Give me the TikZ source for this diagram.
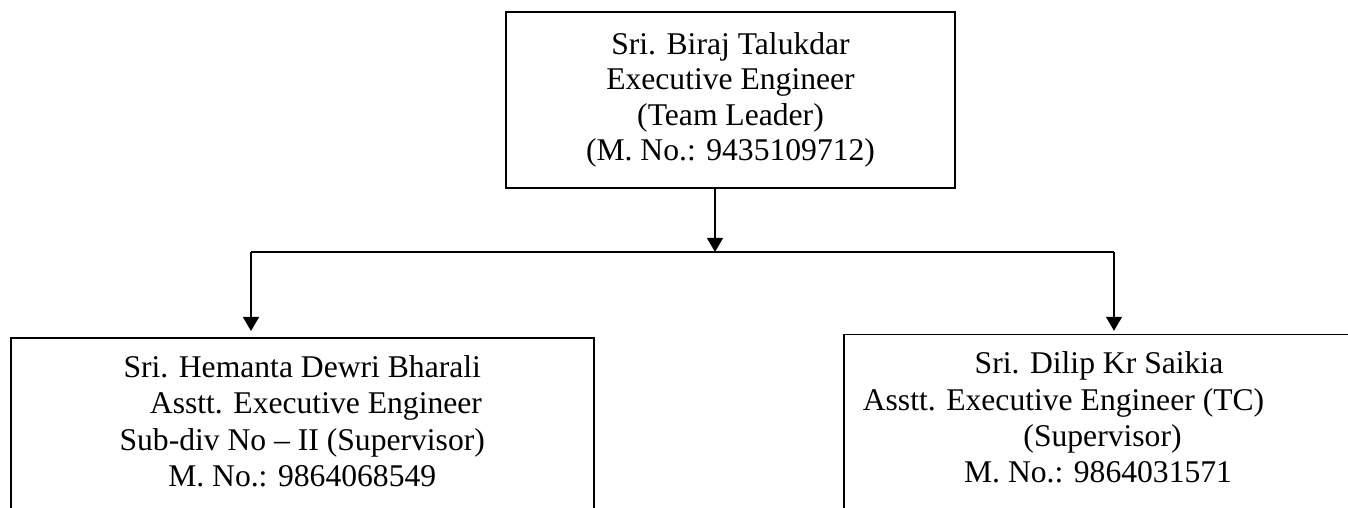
\documentclass[tikz,border=0pt]{standalone}
\usepackage{fontspec}
\setmainfont{Liberation Serif}
\usetikzlibrary{calc}
\usetikzlibrary{arrows.meta}
\usetikzlibrary{positioning}

\begin{document}
\begin{tikzpicture}[x=.02cm,y=-.02cm,
  box/.style={draw,line width=1.1pt,inner sep=0pt},
  txt/.style={align=center,inner sep=0pt,font=\fontsize{18pt}{20.2pt}\selectfont},
  subtxt/.style={txt,font=\fontsize{18pt}{20.7pt}\selectfont},
  link/.style={line width=1.1pt,>={Triangle[length=8pt,width=9pt]}}]
\useasboundingbox (0,0) rectangle (1348,507);
\clip (0,0) rectangle (1348,507);
\node[box,txt,minimum width=8.98cm,minimum height=3.52cm] (leader) at (730.5,100)
  {Sri. Biraj Talukdar\\Executive Engineer\\(Team Leader)\\(M. No.: 9435109712)};
\node[box,minimum width=11.67cm,minimum height=4cm,anchor=north] (hdb) at (302.25,337) {};
\node[box,minimum width=10.72cm,minimum height=4cm,anchor=north] (dks) at (1112,333.5) {};
\node[subtxt,below=.36cm of hdb.north] (hdbtxt)
  {Sri. Hemanta Dewri Bharali\\\hspace*{15.6pt}Asstt. Executive Engineer\\Sub-div No – II (Supervisor)\\M. No.: 9864068549};
\node[subtxt,below=.36cm of dks.north,xshift=-.97cm] (dkstxt)
  {\hspace*{40.4pt}Sri. Dilip Kr Saikia\\Asstt. Executive Engineer (TC)\\\hspace*{44.4pt}(Supervisor)\\\hspace*{39.3pt}M. No.: 9864031571};
\coordinate (split) at (715,252);
\coordinate (lturn) at (251,252);
\coordinate (rturn) at (1114,252);
\draw[link,->] (leader.south -| split) -- (split);
\draw[link] (lturn) -- (rturn);
\draw[link,->,shorten >=3.4pt] (lturn) -- (lturn |- hdb.north);
\draw[link,->,shorten >=1.5pt] (rturn) -- (rturn |- dks.north);
\end{tikzpicture}
\end{document}
